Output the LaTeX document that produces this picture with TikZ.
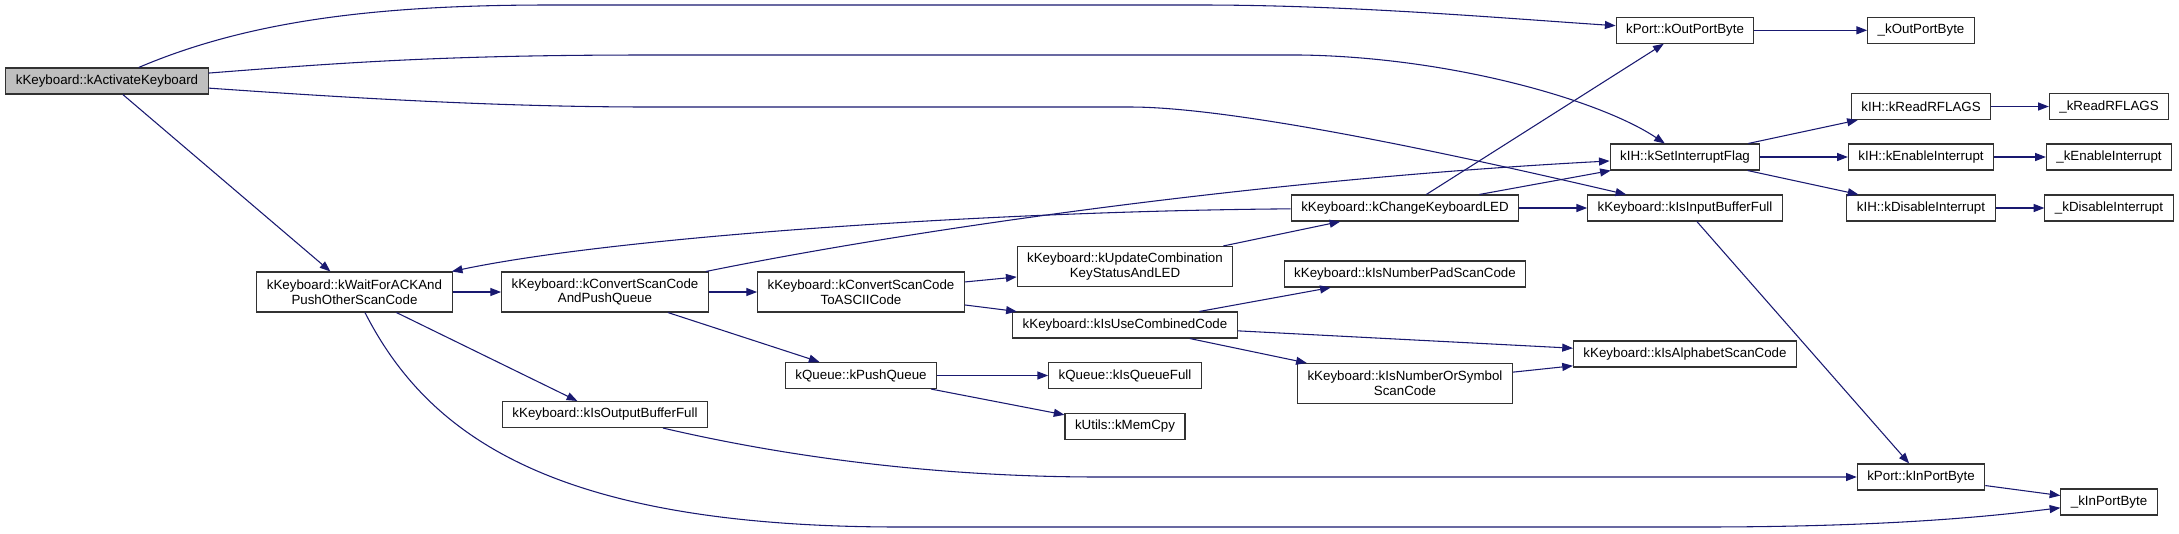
\documentclass[tikz,border=0pt]{standalone}
\usepackage{fontspec}
\setmainfont{Liberation Sans}
\usetikzlibrary{arrows.meta}
\definecolor{EdgeBlue}{RGB}{25,25,112}
\definecolor{RootGray}{RGB}{191,191,191}
\definecolor{BoxLine}{RGB}{50,50,50}

\begin{document}
\begin{tikzpicture}[x=0.75pt, y=-0.75pt,
    fn/.style={draw=BoxLine, fill=white, line width=0.8pt, inner xsep=7.5pt, inner ysep=2pt,
      minimum height=19.5pt, align=center, font=\fontsize{10}{11}\selectfont},
    fntwo/.style={fn, minimum height=30pt},
    root/.style={fn, fill=RootGray},
    call/.style={EdgeBlue, line width=0.8pt, -{Triangle[length=8pt,width=6pt]}}]
      \useasboundingbox (0,0) rectangle (2179,533);

      % Caller
      \node[root] (act) at (107,81) {kKeyboard::kActivateKeyboard};

      % Keyboard functions
      \node[fntwo] (wait) at (354.5,292) {kKeyboard::kWaitForACKAnd\\PushOtherScanCode};
      \node[fntwo] (convq) at (605,292) {kKeyboard::kConvertScanCode\\AndPushQueue};
      \node[fn] (outfull) at (605,414.5) {kKeyboard::kIsOutputBufferFull};
      \node[fntwo] (conva) at (861,292) {kKeyboard::kConvertScanCode\\ToASCIICode};
      \node[fn] (push) at (861,375.5) {kQueue::kPushQueue};
      \node[fntwo] (update) at (1125,266.5) {kKeyboard::kUpdateCombination\\KeyStatusAndLED};
      \node[fn] (comb) at (1125,325) {kKeyboard::kIsUseCombinedCode};
      \node[fn] (qfull) at (1125,375.5) {kQueue::kIsQueueFull};
      \node[fn] (memcpy) at (1125,426.5) {kUtils::kMemCpy};
      \node[fn] (led) at (1405,208) {kKeyboard::kChangeKeyboardLED};
      \node[fn] (numpad) at (1405,274) {kKeyboard::kIsNumberPadScanCode};
      \node[fntwo] (numsym) at (1405,383.5) {kKeyboard::kIsNumberOrSymbol\\ScanCode};
      \node[fn] (alpha) at (1685,354) {kKeyboard::kIsAlphabetScanCode};
      \node[fn] (infull) at (1685,208) {kKeyboard::kIsInputBufferFull};

      % Port and interrupt functions
      \node[fn] (outp) at (1685,30.3) {kPort::kOutPortByte};
      \node[fn] (setint) at (1685,157) {kIH::kSetInterruptFlag};
      \node[fn] (readrf) at (1921,106.5) {kIH::kReadRFLAGS};
      \node[fn] (enint) at (1921,157) {kIH::kEnableInterrupt};
      \node[fn] (disint) at (1921,208) {kIH::kDisableInterrupt};
      \node[fn] (inp) at (1921,477) {kPort::kInPortByte};
      \node[fn] (asmout) at (1921,30.3) {\_kOutPortByte};
      \node[fn] (asmrf) at (2109,106.5) {\_kReadRFLAGS};
      \node[fn] (asmen) at (2109,157) {\_kEnableInterrupt};
      \node[fn] (asmdis) at (2109,208) {\_kDisableInterrupt};
      \node[fn] (asmin) at (2109,502) {\_kInPortByte};

      % Calls from the caller
      \draw[call] (act) .. controls (250,20) and (380,5) .. (550,5) -- (1200,5)
        .. controls (1350,5) and (1500,18) .. (outp);
      \draw[call] (act) .. controls (350,62) and (450,55) .. (650,55) -- (1300,55)
        .. controls (1450,57) and (1600,100) .. (setint);
      \draw[call] (act) .. controls (350,98) and (500,107) .. (650,107) -- (1130,107)
        .. controls (1250,107) and (1520,170) .. (infull);
      \draw[call] (act) -- (wait);

      % Calls between keyboard functions
      \draw[call] (wait) -- (convq);
      \draw[call] (wait) -- (outfull);
      \draw[call] (wait) .. controls (430,440) and (560,527) .. (900,527) -- (1700,527)
        .. controls (1900,527) and (2000,515) .. (asmin);
      \draw[call] (convq) -- (conva);
      \draw[call] (convq) -- (push);
      \draw[call] (convq) .. controls (900,232) and (1250,180) .. (setint);
      \draw[call] (outfull) .. controls (800,460) and (950,477) .. (1100,477) -- (inp);
      \draw[call] (conva) -- (update);
      \draw[call] (conva) -- (comb);
      \draw[call] (update) -- (led);
      \draw[call] (led) .. controls (1000,211) and (620,236) .. (wait);
      \draw[call] (led) -- (outp);
      \draw[call] (led) -- (setint);
      \draw[call] (led) -- (infull);
      \draw[call] (comb) -- (numpad);
      \draw[call] (comb) -- (alpha);
      \draw[call] (comb) -- (numsym);
      \draw[call] (numsym) -- (alpha);
      \draw[call] (push) -- (qfull);
      \draw[call] (push) -- (memcpy);
      \draw[call] (infull) -- (inp);

      % Calls to port and interrupt functions
      \draw[call] (outp) -- (asmout);
      \draw[call] (setint) -- (readrf);
      \draw[call] (setint) -- (enint);
      \draw[call] (setint) -- (disint);
      \draw[call] (readrf) -- (asmrf);
      \draw[call] (enint) -- (asmen);
      \draw[call] (disint) -- (asmdis);
      \draw[call] (inp) -- (asmin);
    \end{tikzpicture}
\end{document}
